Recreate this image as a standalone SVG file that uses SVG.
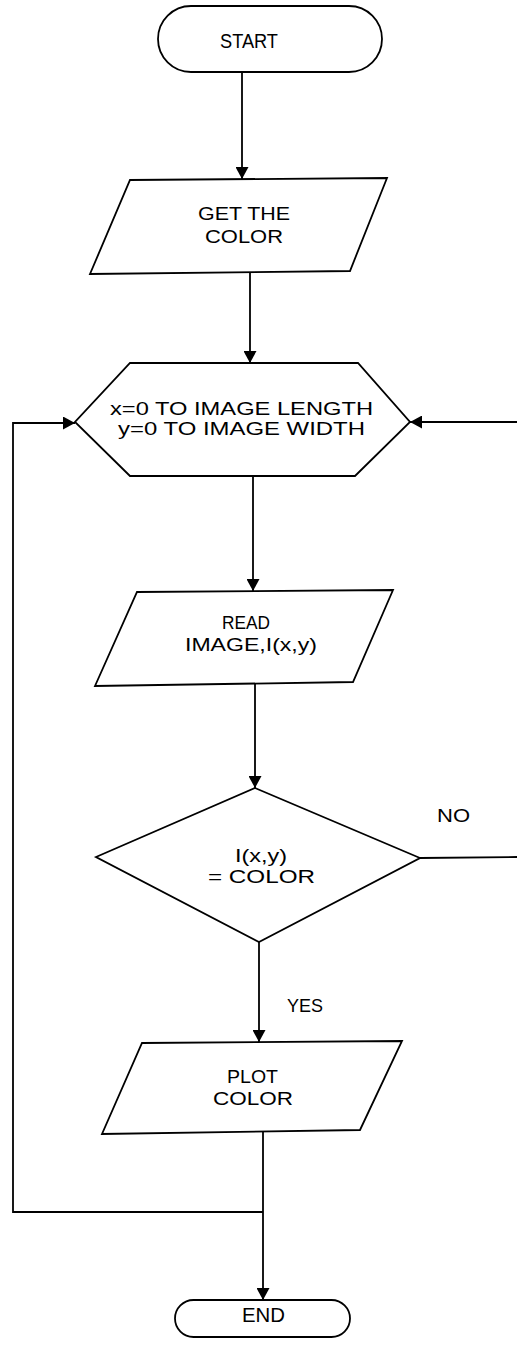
<svg xmlns="http://www.w3.org/2000/svg" width="517" height="1347" viewBox="0 0 517 1347">
  <style>
    .shape { fill: #ffffff; stroke: #000000; stroke-width: 1.8; stroke-linejoin: miter; }
    .wire { fill: none; stroke: #000000; stroke-width: 1.8; }
    .lbl { font-family: "Liberation Sans", Arial, sans-serif; font-size: 18.5px; fill: #000000; }
    .big { font-size: 20.5px; }
  </style>
  <defs>
    <marker id="arrow" markerUnits="userSpaceOnUse" markerWidth="12" markerHeight="13" viewBox="0 0 12 13" refX="12" refY="6.5" orient="auto">
      <path d="M0,0 L12,6.5 L0,13 Z" fill="#000000"/>
    </marker>
  </defs>

  <rect width="517" height="1347" fill="#ffffff"/>

  <!-- connectors -->
  <g id="connectors">
    <line class="wire" x1="242" y1="72" x2="242" y2="179" marker-end="url(#arrow)"/>
    <line class="wire" x1="250" y1="273" x2="250" y2="363" marker-end="url(#arrow)"/>
    <line class="wire" x1="253" y1="476" x2="253" y2="591" marker-end="url(#arrow)"/>
    <line class="wire" x1="255" y1="684" x2="255" y2="788" marker-end="url(#arrow)"/>
    <line class="wire" x1="259" y1="942" x2="259" y2="1042" marker-end="url(#arrow)"/>
    <line class="wire" x1="263" y1="1132" x2="263" y2="1300" marker-end="url(#arrow)"/>
    <!-- loop back to the scan header -->
    <polyline class="wire" points="263,1212 13,1212 13,423 75,423" marker-end="url(#arrow)"/>
    <!-- NO branch leaving and re-entering on the right -->
    <line class="wire" x1="420" y1="858" x2="517" y2="857"/>
    <line class="wire" x1="517" y1="422" x2="410" y2="422" marker-end="url(#arrow)"/>
    <text class="lbl" x="437" y="822" textLength="33" lengthAdjust="spacingAndGlyphs">NO</text>
    <text class="lbl" x="287" y="1012" textLength="36" lengthAdjust="spacingAndGlyphs">YES</text>
  </g>

  <g id="start">
    <rect class="shape" x="158" y="6" width="224" height="66" rx="33" ry="33"/>
    <text class="lbl big" x="220" y="48" textLength="58" lengthAdjust="spacingAndGlyphs">START</text>
  </g>

  <g id="get-color">
    <polygon class="shape" points="130,180 387,178 350,271 90,274"/>
    <text class="lbl" x="198" y="220" textLength="92" lengthAdjust="spacingAndGlyphs">GET THE</text>
    <text class="lbl" x="205" y="243" textLength="78" lengthAdjust="spacingAndGlyphs">COLOR</text>
  </g>

  <g id="scan-loop">
    <polygon class="shape" points="130,363 358,363 410,422 355,476 130,476 75,422"/>
    <text class="lbl" x="110" y="415" textLength="263" lengthAdjust="spacingAndGlyphs">x=0  TO  IMAGE  LENGTH</text>
    <text class="lbl" x="118" y="435" textLength="247" lengthAdjust="spacingAndGlyphs">y=0  TO  IMAGE  WIDTH</text>
  </g>

  <g id="read-image">
    <polygon class="shape" points="137,592 393,590 353,682 95,686"/>
    <text class="lbl" x="222" y="629" textLength="48" lengthAdjust="spacingAndGlyphs">READ</text>
    <text class="lbl" x="185" y="651" textLength="132" lengthAdjust="spacingAndGlyphs">IMAGE,I(x,y)</text>
  </g>

  <g id="compare">
    <polygon class="shape" points="255,788 420,858 259,942 96,857"/>
    <text class="lbl" x="235" y="862" textLength="52" lengthAdjust="spacingAndGlyphs">I(x,y)</text>
    <text class="lbl" x="208" y="883" textLength="107" lengthAdjust="spacingAndGlyphs">=  COLOR</text>
  </g>

  <g id="plot-color">
    <polygon class="shape" points="142,1043 402,1041 360,1130 102,1134"/>
    <text class="lbl" x="227" y="1083" textLength="51" lengthAdjust="spacingAndGlyphs">PLOT</text>
    <text class="lbl" x="213" y="1105" textLength="80" lengthAdjust="spacingAndGlyphs">COLOR</text>
  </g>

  <g id="end">
    <rect class="shape" x="175" y="1300" width="175" height="37" rx="18.5" ry="18.5"/>
    <text class="lbl big" x="242" y="1322" textLength="43" lengthAdjust="spacingAndGlyphs">END</text>
  </g>
</svg>
